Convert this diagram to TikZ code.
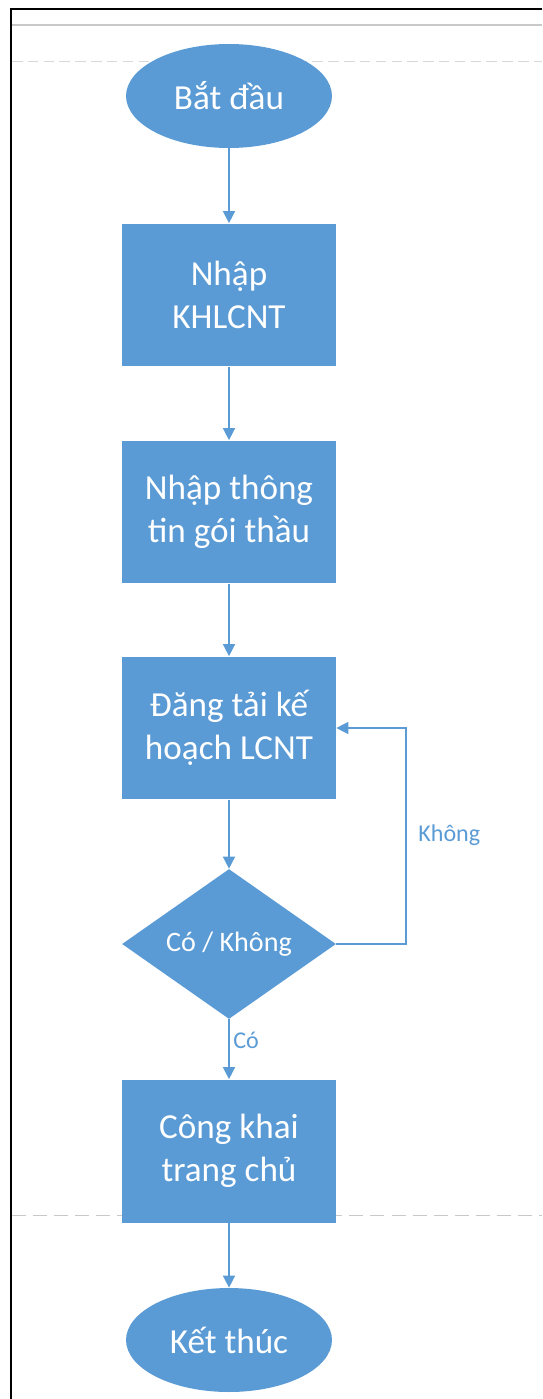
\documentclass[tikz,border=0pt]{standalone}
\usepackage{fontspec}
\setmainfont{Carlito}
\usetikzlibrary{shapes.geometric,arrows.meta}
\definecolor{flowblue}{HTML}{5B9BD5}
\definecolor{lanegray}{HTML}{C8C8C8}
\begin{document}
\begin{tikzpicture}[x=0.02cm,y=-0.02cm,
  terminal/.style={ellipse, fill=flowblue, text=white, minimum width=4.12cm, minimum height=2.08cm, inner sep=0pt, font=\fontsize{20}{24.5}\selectfont},
  process/.style={rectangle, fill=flowblue, text=white, minimum width=4.28cm, minimum height=2.86cm, align=center, font=\fontsize{20}{24.5}\selectfont},
  decision/.style={diamond, fill=flowblue, text=white, minimum width=4.28cm, minimum height=2.84cm, inner sep=0pt, font=\fontsize{16}{19}\selectfont},
  flowlabel/.style={text=flowblue, inner sep=0pt, anchor=west, font=\fontsize{13.7}{16}\selectfont},
  flow/.style={draw=flowblue, line width=0.8pt, -{Triangle[length=0.24cm, width=0.24cm]}}]
\useasboundingbox (0,0) rectangle (542,1399);
\draw[lanegray, line width=0.6pt] (12,25) -- (542,25);
\draw[lanegray!70, dashed, dash pattern=on 6pt off 3pt] (12,61) -- (542,61);
\draw[lanegray, dashed, dash pattern=on 8pt off 4pt] (12,1215) -- (542,1215);
\draw[black, line width=1.2pt] (11,1399) -- (11,9) -- (542,9);
\node[terminal] (start) at (229,96) {Bắt đầu};
\node[process] (khlcnt) at (229,295) {Nhập\\KHLCNT};
\node[process] (goithau) at (229,512) {Nhập thông\\tin gói thầu};
\node[process] (dangtai) at (229,728) {Đăng tải kế\\hoạch LCNT};
\node[decision] (check) at (229,944) {Có / Không};
\node[process] (congkhai) at (229,1151) {Công khai\\trang chủ};
\node[terminal] (stop) at (229,1340) {Kết thúc};
\coordinate (loop) at (406,944);
\draw[flow] (start) -- (khlcnt);
\draw[flow] (khlcnt) -- (goithau);
\draw[flow] (goithau) -- (dangtai);
\draw[flow] (dangtai) -- (check);
\draw[flow] (check) -- (congkhai);
\draw[flow] (check.east) -- (loop) |- (dangtai.east);
\draw[flow] (congkhai) -- (stop);
\node[flowlabel] (lblco) at (233,1040) {Có};
\node[flowlabel] (lblkhong) at (418,835) {Không};
\end{tikzpicture}
\end{document}
